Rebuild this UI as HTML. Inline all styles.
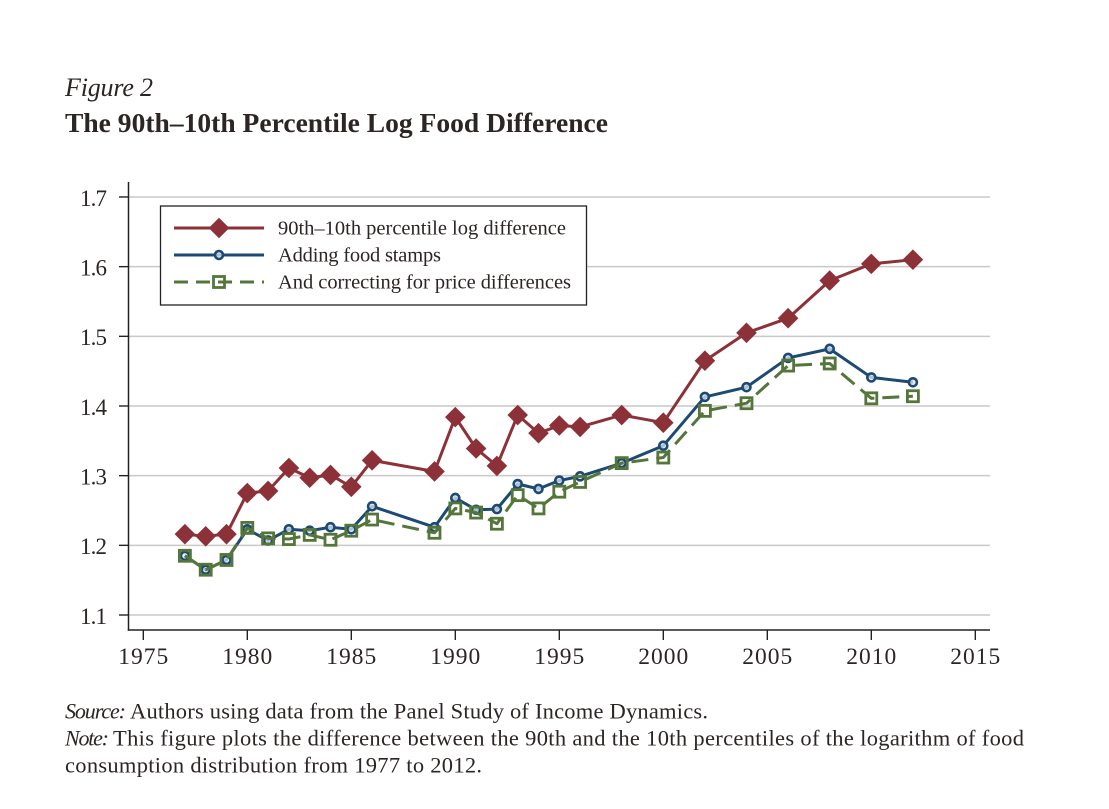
<!DOCTYPE html>
<html>
<head>
<meta charset="utf-8">
<title>Figure 2</title>
<style>
html,body{margin:0;padding:0;background:#fff;}
svg{display:block;}
text{font-family:"Liberation Serif",serif;fill:#2b2523;}
</style>
</head>
<body>
<svg id="chart" xmlns="http://www.w3.org/2000/svg" width="1109" height="809" viewBox="0 0 1109 809">
  <rect x="0" y="0" width="1109" height="809" fill="#fff"/>
  <text x="65" y="96" font-size="26" font-style="italic" textLength="88">Figure 2</text>
  <text x="65" y="131.8" font-size="27.5" font-weight="bold" textLength="543">The 90th–10th Percentile Log Food Difference</text>
  <g id="plot"></g>
  <g>
    <rect x="160.5" y="206" width="426" height="99" fill="#fff" stroke="#222" stroke-width="1.3"/>
    <g id="legend-keys"></g>
    <text x="278" y="234.7" font-size="20.5" textLength="288">90th–10th percentile log difference</text>
    <text x="278" y="261.7" font-size="20.5" textLength="163">Adding food stamps</text>
    <text x="278" y="288.7" font-size="20.5" textLength="293">And correcting for price differences</text>
  </g>
  <text x="65" y="718.7" font-size="22" font-style="italic" textLength="61">Source:</text>
  <text x="130" y="718.7" font-size="22.5" textLength="578">Authors using data from the Panel Study of Income Dynamics.</text>
  <text x="65" y="745.7" font-size="22" font-style="italic" textLength="44">Note:</text>
  <text x="113" y="745.7" font-size="22.5" textLength="911">This figure plots the difference between the 90th and the 10th percentiles of the logarithm of food</text>
  <text x="65" y="772.7" font-size="22.5" textLength="417">consumption distribution from 1977 to 2012.</text>
</svg>
<script>
const years = [1977,1978,1979,1980,1981,1982,1983,1984,1985,1986,1989,1990,1991,1992,1993,1994,1995,1996,1998,2000,2002,2004,2006,2008,2010,2012];
const percentileDiff = [1.216,1.213,1.216,1.275,1.278,1.311,1.297,1.301,1.284,1.322,1.306,1.384,1.339,1.314,1.387,1.361,1.372,1.370,1.387,1.376,1.465,1.505,1.526,1.580,1.604,1.610];
const foodStamps = [1.185,1.165,1.179,1.223,1.207,1.223,1.221,1.226,1.223,1.256,1.226,1.268,1.251,1.252,1.288,1.281,1.293,1.299,1.318,1.343,1.413,1.427,1.469,1.482,1.441,1.434];
const priceCorrected = [1.185,1.165,1.179,1.225,1.210,1.209,1.215,1.208,1.221,1.237,1.218,1.253,1.247,1.231,1.272,1.253,1.277,1.291,1.318,1.326,1.393,1.404,1.458,1.461,1.411,1.414];
const yTicks = [1.1,1.2,1.3,1.4,1.5,1.6,1.7];
const xTicks = [1975,1980,1985,1990,1995,2000,2005,2010,2015];

const NS = 'http://www.w3.org/2000/svg';
const plot = document.getElementById('plot');
const legendKeys = document.getElementById('legend-keys');
const RED = '#8d3138', BLUE = '#1c4a73', GREEN = '#55763a', AXIS = '#222';

function xScale(v){ return 143.3 + (v - 1975) * 20.8; }
function yScale(v){ return 615 - (v - 1.1) * 696.7; }

function make(tag, attrs, parent){
  const el = document.createElementNS(NS, tag);
  for (const k in attrs) el.setAttribute(k, attrs[k]);
  parent.appendChild(el);
  return el;
}

yTicks.forEach(function(t){
  const y = yScale(t);
  const grid = make('line', {x1:128.5, x2:990, y1:y, y2:y, stroke:'#c9c9c9', 'stroke-width':1.5}, plot);
  
  
  const tick = make('line', {x1:119, x2:128.5, y1:y, y2:y, stroke:AXIS, 'stroke-width':1.4}, plot);
  
  
  const label = make('text', {x:80, y:y + 8.8, 'font-size':23, textLength:27}, plot);
  label.textContent = t.toFixed(1);
  
  
});

xTicks.forEach(function(t){
  const x = xScale(t);
  const tick = make('line', {x1:x, x2:x, y1:630, y2:640, stroke:AXIS, 'stroke-width':1.4}, plot);
  
  
  const label = make('text', {x:x - 25, y:664, 'font-size':23.5, textLength:50}, plot);
  label.textContent = String(t);
  
  
});

const yAxis = make('line', {x1:128.5, x2:128.5, y1:182, y2:630.7, stroke:AXIS, 'stroke-width':1.5}, plot);


const xAxis = make('line', {x1:127.8, x2:990, y1:630, y2:630, stroke:AXIS, 'stroke-width':1.5}, plot);



function diamond(cx, cy, parent){
  const r = 10.3;
  const m = make('polygon', {points:[cx,cy-r,cx+r,cy,cx,cy+r,cx-r,cy].join(' '), fill:RED}, parent);
  
  
}
function circle(cx, cy, parent){
  const m = make('circle', {cx:cx, cy:cy, r:4, fill:'#dfe8f0', 'fill-opacity':0.75, stroke:BLUE, 'stroke-width':2.6}, parent);
  
  
}
function square(cx, cy, parent){
  const m = make('rect', {x:cx-5.5, y:cy-5.5, width:11, height:11, fill:'none', stroke:GREEN, 'stroke-width':2.8}, parent);
  
  
}

function drawSeries(values, color, dash, marker, seriesName){
  const pts = values.map(function(v, i){ return xScale(years[i]) + ',' + yScale(v); }).join(' ');
  const line = make('polyline', {points:pts, fill:'none', stroke:color, 'stroke-width':3, 'stroke-linejoin':'round'}, plot);
  if (dash) line.setAttribute('stroke-dasharray', dash);
  
  
  values.forEach(function(v, i){ marker(xScale(years[i]), yScale(v), plot); });
}

drawSeries(percentileDiff, RED, null, diamond, 'percentile-difference-line');
drawSeries(foodStamps, BLUE, null, circle, 'food-stamps-line');
drawSeries(priceCorrected, GREEN, '17 8', square, 'price-corrected-line');

function legendKey(y, color, dash, marker){
  const line = make('line', {x1:174, x2:264, y1:y, y2:y, stroke:color, 'stroke-width':3}, legendKeys);
  if (dash) line.setAttribute('stroke-dasharray', dash);
  
  
  marker(219, y, legendKeys);
}
legendKey(228, RED, null, diamond);
legendKey(255, BLUE, null, circle);
legendKey(282, GREEN, '14 8', square);
</script>
</body>
</html>
